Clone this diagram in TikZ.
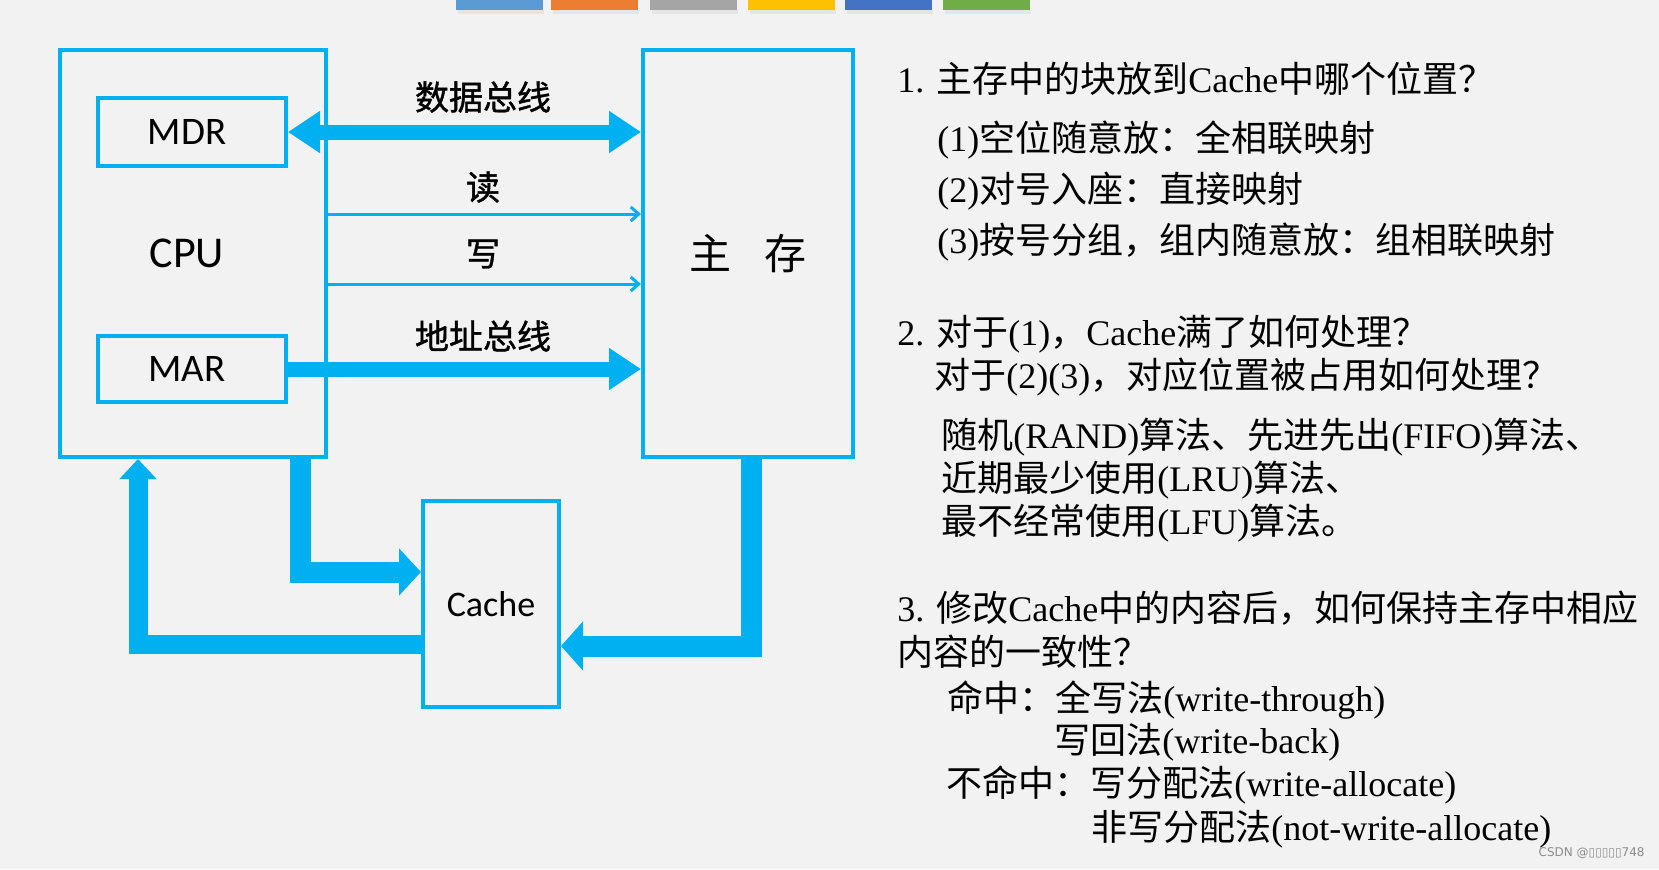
\documentclass[tikz,border=0pt]{standalone}
\usepackage{fontspec}
\setmainfont{Liberation Serif}
\newfontfamily\cjk{Noto Sans CJK SC}
\newfontfamily\cjkb[FakeBold=1.2]{Noto Sans CJK SC}
\newfontfamily\lab{Carlito}
\newfontfamily\wmfont{DejaVu Sans}
\usetikzlibrary{arrows.meta}
\definecolor{busblue}{HTML}{00B0F0}
\definecolor{slidebg}{HTML}{F2F2F2}
\definecolor{barA}{HTML}{5B9BD5}
\definecolor{barB}{HTML}{ED7D31}
\definecolor{barC}{HTML}{A5A5A5}
\definecolor{barD}{HTML}{FFC000}
\definecolor{barE}{HTML}{4472C4}
\definecolor{barF}{HTML}{70AD47}
\newcommand{\zh}[1]{{\cjk #1}}
\begin{document}
\begin{tikzpicture}[x=0.5pt,y=-0.5pt,
    unit/.style={draw=busblue,line width=2pt,inner sep=0pt},
    buslabel/.style={inner sep=0pt,font=\cjkb\fontsize{17}{20}\selectfont},
    bus/.style={busblue,line width=7.5pt,-{Triangle[width=20pt,length=16pt]}},
    dbus/.style={busblue,line width=7.5pt,{Triangle[width=20pt,length=16pt]}-{Triangle[width=20pt,length=16pt]}},
    ctrl/.style={busblue,line width=1.5pt,-{Straight Barb[width=7pt,length=4pt]}},
    pipe/.style={busblue,line width=10.5pt,line join=miter,-{Triangle[width=23pt,length=11pt]}},
    note/.style={anchor=base west,inner sep=0pt,font=\fontsize{18}{21}\selectfont}]
  \fill[slidebg] (0,0) rectangle (1659,869);
  \useasboundingbox (0,0) rectangle (1659,869);
  % slide bars
  \foreach \x/\c in {456/barA,551/barB,650/barC,748/barD,845/barE,943/barF}{
    \fill[black!10] (\x+2,10) rectangle ++(86,4);
    \fill[\c] (\x,0) rectangle ++(87,10);
  }
  % units
  \node[unit,minimum width=133pt,minimum height=203.5pt,font=\lab\fontsize{22}{26}\selectfont] (cpu) at (193,253.5) {CPU\kern6pt};
  \node[unit,minimum width=94pt,minimum height=34pt,font=\lab\fontsize{19.5}{23}\selectfont] (mdr) at (192,132) {MDR\kern5pt};
  \node[unit,minimum width=94pt,minimum height=33pt,font=\lab\fontsize{19.5}{23}\selectfont] (mar) at (192,369) {MAR\kern5pt};
  \node[unit,minimum width=105pt,minimum height=203.5pt,font=\cjk\fontsize{21}{24}\selectfont] (mem) at (748,253.5) {主\hspace{0.8em}存};
  \node[unit,minimum width=68pt,minimum height=103pt,font=\lab\fontsize{18}{22}\selectfont] (cache) at (491,604) {Cache};
  \node[buslabel] (dlab) at (483,97) {数据总线};
  \node[buslabel] (rlab) at (483,187) {读};
  \node[buslabel] (wlab) at (483,254) {写};
  \node[buslabel] (alab) at (483,336) {地址总线};
  \coordinate (rd) at (0,214);
  \coordinate (wr) at (0,284);
  \coordinate (c1) at (300,572);
  \coordinate (c2) at (138,644);
  \coordinate (c3) at (751,646);
  \begin{scope}
    \draw[dbus] (mdr.east) -- (mdr.east -| mem.west);
    \draw[ctrl] (cpu.east |- rd) -- (mem.west |- rd);
    \draw[ctrl] (cpu.east |- wr) -- (mem.west |- wr);
    \draw[bus] (mar.east) -- (mar.east -| mem.west);
    \draw[pipe] (cpu.south -| c1) |- (cache.west |- c1);
    \draw[pipe,-{Triangle[width=18pt,length=10pt]},line width=9.5pt] (cache.west |- c2) -| (cpu.south -| c2);
    \draw[pipe,-{Triangle[width=24pt,length=11pt]}] (mem.south -| c3) |- (cache.east |- c3);
  \end{scope}
  % questions
  \node[note] (q1) at (897,92) {1. \zh{主存中的块放到}Cache\zh{中哪个位置？}};
  \node[note] (a1) at (937,151) {(1)\zh{空位随意放：全相联映射}};
  \node[note] (a2) at (937,202) {(2)\zh{对号入座：直接映射}};
  \node[note] (a3) at (937,253) {(3)\zh{按号分组，组内随意放：组相联映射}};
  \node[note] (q2) at (897,345) {2. \zh{对于}(1)\zh{，}Cache\zh{满了如何处理？}};
  \node[note] (q2b) at (934,388) {\zh{对于}(2)(3)\zh{，对应位置被占用如何处理？}};
  \node[note] (r1) at (941,448) {\zh{随机}(RAND)\zh{算法、先进先出}(FIFO)\zh{算法、}};
  \node[note] (r2) at (941,491) {\zh{近期最少使用}(LRU)\zh{算法、}};
  \node[note] (r3) at (941,534) {\zh{最不经常使用}(LFU)\zh{算法。}};
  \node[note] (q3) at (897,621) {3. \zh{修改}Cache\zh{中的内容后，如何保持主存中相应}};
  \node[note] (q3b) at (897,665) {\zh{内容的一致性？}};
  \node[note] (h1) at (947,711) {\zh{命中：全写法}(write-through)};
  \node[note] (h2) at (1054,753) {\zh{写回法}(write-back)};
  \node[note] (m1) at (946,796) {\zh{不命中：写分配法}(write-allocate)};
  \node[note] (m2) at (1091,840) {\zh{非写分配法}(not-write-allocate)};
  \node[anchor=east,inner sep=0pt,text=black!45,font=\wmfont\fontsize{6}{7}\selectfont] (wm) at (1645,853) {CSDN @▯▯▯▯▯748};
\end{tikzpicture}
\end{document}
